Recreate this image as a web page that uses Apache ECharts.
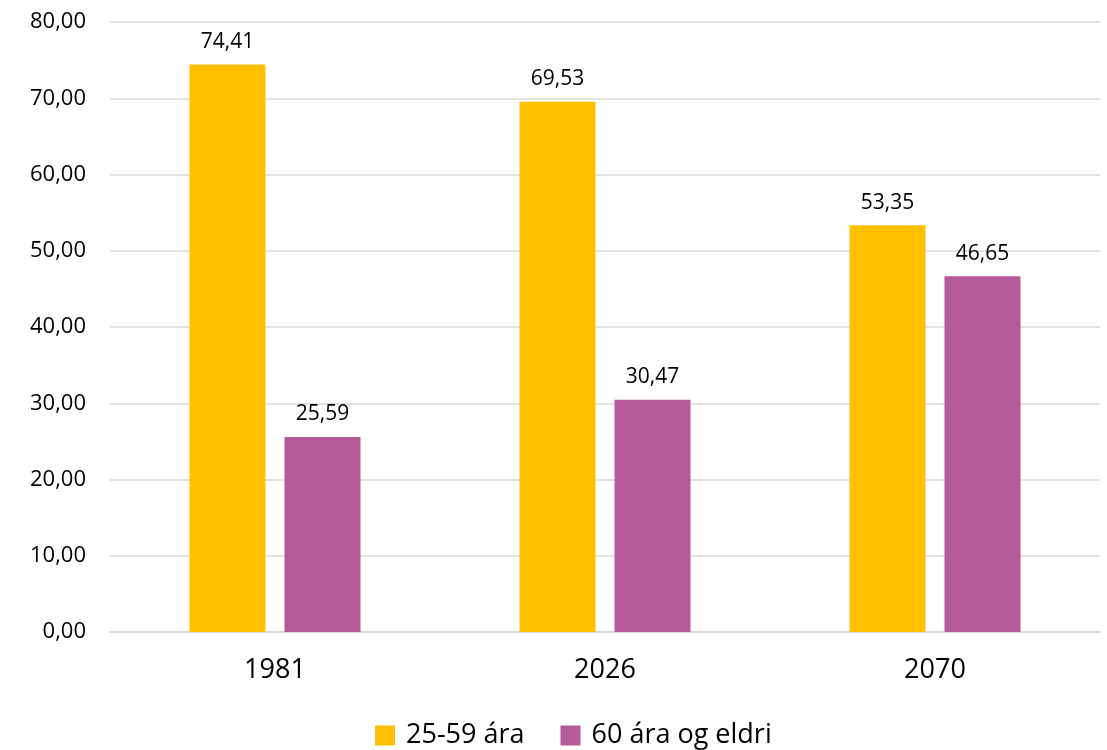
<!DOCTYPE html>
<html>
<head>
<meta charset="utf-8">
<script src="https://cdn.jsdelivr.net/npm/echarts@6/dist/echarts.min.js"></script>
<style>html,body{margin:0;padding:0;background:#fff}#c{width:1107px;height:750px}</style>
</head>
<body>
<div id="c"></div>
<script>
const categories = ['1981', '2026', '2070'];
const seriesNames = ['25-59 ára', '60 ára og eldri'];
const young = [74.41, 69.53, 53.35];
const old = [25.59, 30.47, 46.65];

const fmt = v => v.toFixed(2).replace('.', ',');
const FONT = 'Open Sans';
const chart = echarts.init(document.getElementById('c'));
chart.setOption({
  animation: false,
  textStyle: { fontFamily: FONT },
  grid: { left: 110, right: 7, top: 22, bottom: 118 },
  legend: {
    bottom: -4, left: 370,
    itemWidth: 20, itemHeight: 20, itemGap: 36,
    icon: 'rect',
    textStyle: { fontSize: 27, color: '#000', fontFamily: FONT, padding: [0, 0, 0, 6] },
    data: seriesNames
  },
  xAxis: {
    type: 'category', data: categories,
    axisLine: { show: true, lineStyle: { color: '#d9d9d9', width: 2 } },
    axisTick: { show: false },
    axisLabel: { fontSize: 27, color: '#000', margin: 25, fontFamily: FONT }
  },
  yAxis: {
    type: 'value', min: 0, max: 80, interval: 10,
    axisLine: { show: false }, axisTick: { show: false },
    splitLine: { lineStyle: { color: '#d9d9d9', width: 1.5 } },
    axisLabel: { fontSize: 22, color: '#000', margin: 24, fontFamily: FONT, formatter: v => fmt(v) }
  },
  series: [
    { name: seriesNames[0], type: 'bar', data: young, barWidth: 76, barGap: '25%',
      itemStyle: { color: '#FFC000' },
      label: { show: true, position: 'top', distance: 12, fontSize: 21, color: '#000', fontFamily: FONT, formatter: p => fmt(p.value) } },
    { name: seriesNames[1], type: 'bar', data: old, barWidth: 76,
      itemStyle: { color: '#B55B99' },
      label: { show: true, position: 'top', distance: 12, fontSize: 21, color: '#000', fontFamily: FONT, formatter: p => fmt(p.value) } }
  ]
});
</script>
</body>
</html>
